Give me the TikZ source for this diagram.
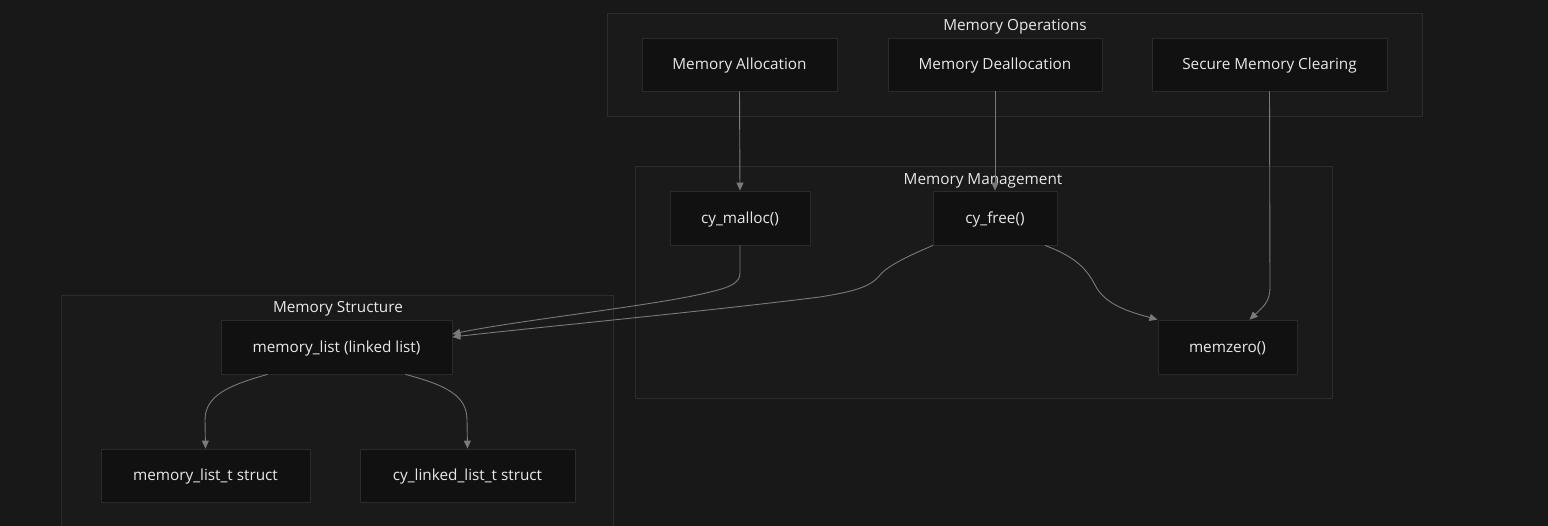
\documentclass[tikz,border=0pt]{standalone}
\usepackage{fontspec}
\setmainfont{Open Sans}
\usetikzlibrary{arrows.meta}
\definecolor{bg}{HTML}{181818}
\definecolor{clfill}{HTML}{1A1A1A}
\definecolor{clline}{HTML}{2C2C2C}
\definecolor{nfill}{HTML}{111111}
\definecolor{nline}{HTML}{2A2A2A}
\definecolor{txt}{HTML}{E8E8E8}
\definecolor{edge}{HTML}{7A7A7A}
\tikzset{
  cluster/.style={draw=clline, fill=clfill, line width=0.8pt},
  box/.style={draw=nline, fill=nfill, line width=0.8pt, text=txt, font=\fontsize{15.3}{17}\selectfont, inner sep=0pt, text height=11pt, text depth=0pt},
  ctitle/.style={text=txt, font=\fontsize{15.3}{17}\selectfont, inner sep=0pt},
  conn/.style={draw=edge, line width=0.9pt, -{Triangle[length=8pt,width=7pt]}},
}
\begin{document}
\begin{tikzpicture}[x=1pt,y=-1pt]
\fill[bg] (0,0) rectangle (1548,526);
\useasboundingbox (0,0) rectangle (1548,526);
% clusters
\draw[cluster] (607,13) rectangle (1422,116);
\node[ctitle] (tops) at (1015,27) {Memory Operations};
\draw[cluster] (635,166) rectangle (1332,398);
\node[ctitle] (tmgmt) at (983,181) {Memory Management};
\draw[cluster] (61,295) rectangle (613,530);
\node[ctitle] (tstruct) at (338,309) {Memory Structure};
% nodes
\node[box, minimum width=195pt, minimum height=53pt] (alloc) at (739.5,64.5) {Memory Allocation};
\node[box, minimum width=214pt, minimum height=53pt] (dealloc) at (995,64.5) {Memory Deallocation};
\node[box, minimum width=235pt, minimum height=53pt] (secure) at (1269.5,64.5) {Secure Memory Clearing};
\node[box, minimum width=140pt, minimum height=54pt] (malloc) at (740,218) {cy\_malloc()};
\node[box, minimum width=124pt, minimum height=54pt] (free) at (995,218) {cy\_free()};
\node[box, minimum width=139pt, minimum height=54pt] (memzero) at (1227.5,347) {memzero()};
\node[box, minimum width=231pt, minimum height=54pt] (mlist) at (336.5,347) {memory\_list (linked list)};
\node[box, minimum width=209pt, minimum height=53pt] (mlt) at (205.5,475.5) {memory\_list\_t struct};
\node[box, minimum width=215pt, minimum height=53pt] (cll) at (467.5,475.5) {cy\_linked\_list\_t struct};
% edges
\draw[conn] (alloc.south) -- (malloc.north);
\draw[conn] (dealloc.south) -- (free.north);
\draw[conn] (secure.south) -- (1270,288) .. controls (1270,302) and (1262,308) .. ([xshift=22pt]memzero.north);
\draw[conn] (malloc.south) -- (740,273) .. controls (740,282) and (732,287) .. (710,292) .. controls (660,305) and (520,320) .. ([yshift=13pt]mlist.east);
\draw[conn] ([xshift=-62pt]free.south) .. controls (915,253) and (888,265) .. (880,275) .. controls (870,288) and (850,292) .. (820,297) .. controls (700,312) and (540,327) .. ([yshift=10pt]mlist.east);
\draw[conn] ([xshift=50pt]free.south) .. controls (1070,255) and (1085,265) .. (1095,285) .. controls (1105,305) and (1130,312) .. ([xshift=-70pt]memzero.north);
\draw[conn] ([xshift=-69pt]mlist.south) .. controls (230,385) and (205,395) .. (205,420) -- (mlt.north);
\draw[conn] ([xshift=69pt]mlist.south) .. controls (445,385) and (467,395) .. (467,420) -- (cll.north);
\end{tikzpicture}
\end{document}
